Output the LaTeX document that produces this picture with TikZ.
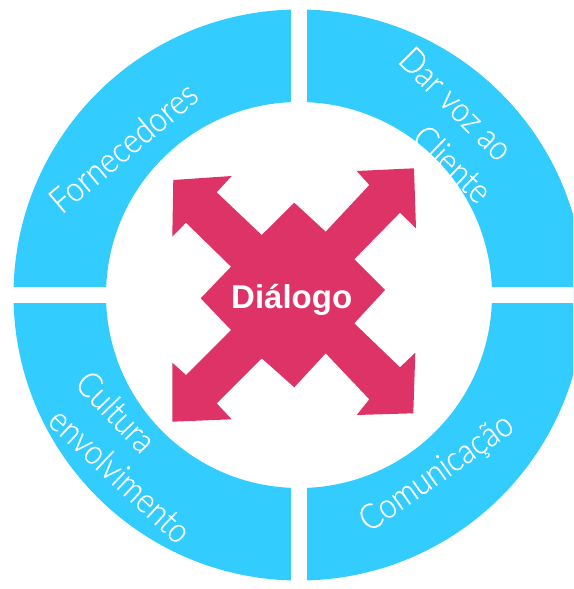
\documentclass[tikz,border=0pt]{standalone}
\usepackage{fontspec}
\setmainfont{Liberation Sans}
\newfontfamily\lightfont{Lato Light}[FakeBold=0.4]
\definecolor{ringblue}{RGB}{51,204,255}
\definecolor{arrowpink}{RGB}{221,51,102}
\begin{document}
\begin{tikzpicture}[x=1pt,y=-1pt,
  ringlabel/.style={font=\lightfont\fontsize{35}{40}\selectfont, text=white,
    inner sep=0pt, anchor=base west, rotate=#1, xscale=0.88},
  centerlabel/.style={font=\bfseries\fontsize{33}{38}\selectfont, text=white,
    inner sep=0pt, anchor=base}]
\useasboundingbox (0,0) rectangle (573,589);
\clip (0,0) rectangle (573,589);
% ring
\fill[ringblue, even odd rule] (299,295) circle (285.5) (299,295) circle (193);
\fill[white] (291,-5) rectangle (307,595);
\fill[white] (-5,287) rectangle (580,303);
% arrows
\fill[arrowpink] (173.3,180) -- (231.7,176) -- (216.7,192.3) -- (261.7,235)
  -- (294.3,202.7) -- (325.7,231.7) -- (369.3,185) -- (356.7,171)
  -- (414,168.3) -- (416,228.3) -- (400,212.7) -- (354.3,259.3)
  -- (385,290) -- (354.3,323.3) -- (400,367.3) -- (415.3,352.7)
  -- (413.3,413.3) -- (356.7,415) -- (369.3,399.3) -- (325.7,353.3)
  -- (294.3,387.3) -- (261.7,358.3) -- (216.7,403.3) -- (231.7,419.3)
  -- (172.3,421.7) -- (172.3,362.7) -- (186,375) -- (231,330)
  -- (200.7,298.3) -- (231,266.7) -- (186,222.7) -- (172.3,236.7) -- cycle;
\node[centerlabel] (dialogo) at (291.7,308.3) {Diálogo};
% labels
\node[ringlabel=40] (forn) at (61.7,215) {Fornecedores};
\node[ringlabel=-45] (dar) at (396.7,61.7) {Dar voz ao};
\node[ringlabel=-44] (cli) at (410,140) {Cliente};
\node[ringlabel=-46] (cult) at (73.3,385) {Cultura};
\node[ringlabel=-43] (envol) at (46,423) {envolvimento};
\node[ringlabel=35] (comu) at (369,533) {Comunicação};
\end{tikzpicture}
\end{document}
